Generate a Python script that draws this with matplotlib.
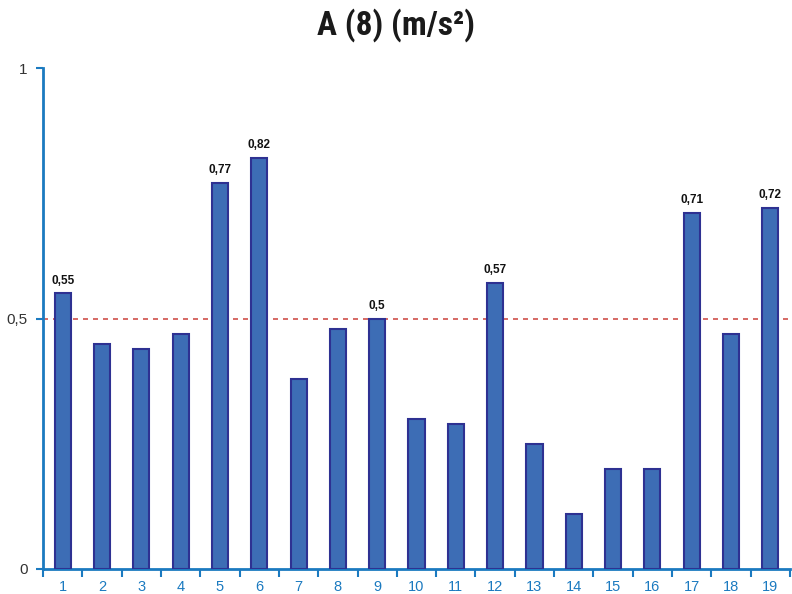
import matplotlib
matplotlib.use("Agg")
import matplotlib.pyplot as plt
from matplotlib import font_manager
import numpy as np

categories = [str(i) for i in range(1, 20)]
values = [0.55, 0.45, 0.44, 0.47, 0.77, 0.82, 0.38, 0.48, 0.50, 0.30,
          0.29, 0.57, 0.25, 0.11, 0.20, 0.20, 0.71, 0.47, 0.72]
threshold = 0.5
y_ticks = [0, 0.5, 1]
y_tick_labels = ["0", "0,5", "1"]

axis_blue = "#1b7ac0"
bar_face = "#3d6db5"
bar_edge = "#2e3192"

names = {f.name for f in font_manager.fontManager.ttflist}
title_family = "Roboto"
for cand in ("Liberation Sans Narrow", "Roboto Condensed", "Open Sans Condensed", "Roboto"):
    if cand in names:
        title_family = cand
        break

fig = plt.figure(figsize=(7.92, 5.94), dpi=100)
ax = fig.add_axes([0.0543, 0.0421, 0.9432, 0.8434])

x = np.arange(len(categories))
ax.bar(x, values, width=0.41, color=bar_face, edgecolor=bar_edge, linewidth=1.5, zorder=3)

ax.axhline(threshold, color="#d0504a", linestyle=(0, (3, 3)), linewidth=1.2, zorder=2)

for xi, v in zip(x, values):
    if v >= threshold:
        label = f"{v:g}".replace(".", ",")
        ax.annotate(label, (xi, v), xytext=(0, 5), textcoords="offset points",
                    ha="center", va="bottom", fontsize=8.5, fontweight="bold",
                    family="Liberation Sans", color="#111111")

ax.set_xlim(-0.5, len(categories) - 0.5)
ax.set_ylim(0, 1)

ax.set_yticks(y_ticks)
ax.set_yticklabels(y_tick_labels, family="Liberation Sans", fontsize=11, color="#333333")
ax.tick_params(axis="y", direction="out", length=5, width=1.5, color=axis_blue, pad=6)

ax.set_xticks(x)
ax.set_xticklabels(categories, family="Liberation Sans", fontsize=10.5, color=axis_blue)
ax.tick_params(axis="x", which="major", length=0, pad=8)
ax.set_xticks(np.arange(-0.5, len(categories)), minor=True)
ax.tick_params(axis="x", which="minor", direction="out", length=6, width=1.5, color=axis_blue)

for side in ("top", "right"):
    ax.spines[side].set_visible(False)
for side in ("left", "bottom"):
    ax.spines[side].set_color(axis_blue)
    ax.spines[side].set_linewidth(2)

fig.text(0.5, 0.957, "A (8) (m/s\u00b2)", ha="center", va="center",
         fontsize=24, fontweight="bold", family=title_family, color="#1a1a1a")

fig.savefig("out.png", dpi=100)
